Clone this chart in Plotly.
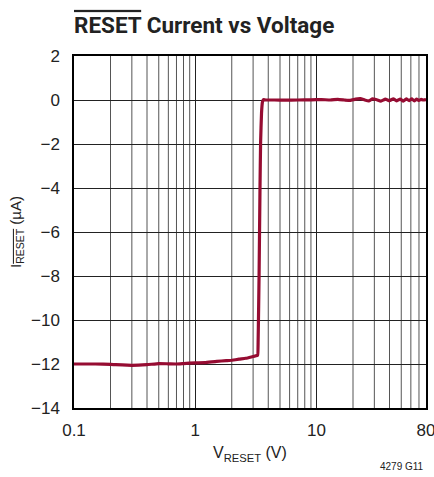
import plotly.graph_objects as go

# Data
v_reset = [0.1, 0.15, 0.2, 0.3, 0.4, 0.5, 0.6, 0.7, 0.8, 1.0, 1.2, 1.5, 1.8, 2.0, 2.3,
           2.6, 2.9, 3.1, 3.27, 3.3, 3.36, 3.42, 3.46, 3.52, 3.58, 3.65, 3.8, 4.5, 5.5,
           7, 9, 11, 13, 15, 17, 19, 21, 23, 25, 27, 29, 31, 34, 37, 40, 43, 46,
           49, 52, 55, 58, 61, 64, 67, 70, 73, 76, 80]
i_reset = [-12.0, -12.0, -12.02, -12.06, -12.03, -11.98, -11.99, -12.0, -11.98, -11.95,
           -11.94, -11.88, -11.85, -11.83, -11.78, -11.74, -11.68, -11.64, -11.6, -11.0,
           -8.0, -4.0, -1.9, -0.6, -0.1, 0.02, 0.0, 0.0, -0.01, 0.0, 0.01, 0.02, 0.0,
           0.03, 0.0, -0.02, 0.04, 0.06, 0.0, -0.04, 0.05, 0.02, -0.05, 0.04, -0.03,
           0.05, -0.04, 0.04, -0.05, 0.05, -0.03, 0.05, -0.04, 0.04, -0.02, 0.03, 0.0, 0.02]

x_tickvals = [0.1, 1, 10, 80]
x_ticktext = ["0.1", "1", "10", "80"]
y_tickvals = [2, 0, -2, -4, -6, -8, -10, -12, -14]
y_ticktext = ["2", "0", "\u22122", "\u22124", "\u22126", "\u22128", "\u221210", "\u221212", "\u221214"]

minor_x = [k * d for d in (0.1, 1, 10) for k in range(2, 10) if k * d < 80]

FONT = "Liberation Sans, Arial, sans-serif"
TITLE_FONT = "Roboto, Liberation Sans, Arial, sans-serif"

fig = go.Figure()
fig.add_trace(go.Scatter(x=v_reset, y=i_reset, mode="lines",
                         line=dict(color="#960C32", width=3.2, shape="spline", smoothing=0.3),
                         showlegend=False, hoverinfo="skip"))

# minor vertical gridlines
for xv in minor_x:
    fig.add_shape(type="line", xref="x", yref="paper", x0=xv, x1=xv, y0=0, y1=1,
                  line=dict(color="#555555", width=1), layer="below")

fig.update_layout(
    width=434, height=477,
    margin=dict(l=74, r=8, t=56, b=69, autoexpand=False),
    paper_bgcolor="white", plot_bgcolor="white",
    font=dict(family=FONT, size=17, color="#222222"),
    title=dict(text="<b><span style='text-decoration:overline'>RESET</span> Current vs Voltage</b>",
               x=74 / 434, xanchor="left", y=1 - 25 / 477, yanchor="middle",
               font=dict(family=TITLE_FONT, size=22.5, color="#222222")),
    xaxis=dict(type="log", range=[-1, 1.90309], tickvals=x_tickvals, ticktext=x_ticktext,
               showgrid=True, gridcolor="#222222", gridwidth=1,
               showline=True, linecolor="black", linewidth=1.5, mirror=True,
               ticks="", zeroline=False, automargin=False, ticklabelstandoff=6,
               ticklabeloverflow="allow",
               title=dict(text="V<sub>RESET</sub> (V)", font=dict(size=16), standoff=8)),
    yaxis=dict(range=[-14, 2], tickvals=y_tickvals, ticktext=y_ticktext,
               showgrid=True, gridcolor="#222222", gridwidth=1,
               showline=True, linecolor="black", linewidth=1.5, mirror=True,
               ticks="", zeroline=False, automargin=False, ticklabelstandoff=9,
               ticklabeloverflow="allow",
               title=dict(text="I<sub><span style='text-decoration:overline'>RESET</span></sub> (\u00b5A)",
                          font=dict(size=15), standoff=6)),
)

fig.add_annotation(text="4279 G11", xref="paper", yref="paper", x=1.0, y=-0.165,
                   xanchor="right", yanchor="middle", showarrow=False,
                   font=dict(family=FONT, size=10, color="#222222"))

fig.write_html("out.html", config={"displayModeBar": False},
               post_script="document.body.style.margin='0';document.body.style.padding='0';")
